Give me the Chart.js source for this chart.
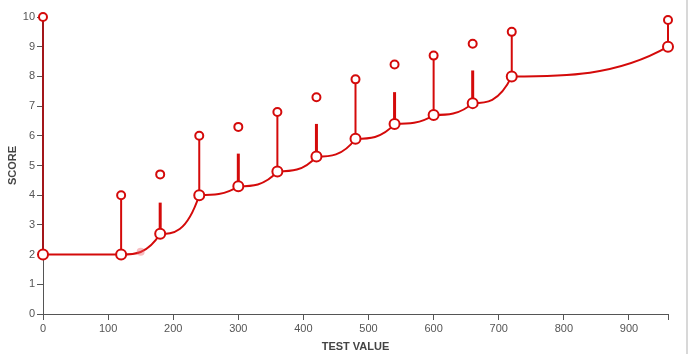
<!DOCTYPE html>
<html>
<head>
<meta charset="utf-8">
<script src="https://cdn.jsdelivr.net/npm/chart.js"></script>
<style>
  html, body { margin: 0; padding: 0; background: #fff; }
  #wrap { width: 686px; height: 354px; border-right: 2px solid #d8d8d8; }
</style>
</head>
<body>
<div id="wrap"><canvas id="myChart" width="686" height="354"></canvas></div>
<script>
// test values on the x axis
var testValues = [0, 120, 180, 240, 300, 360, 420, 480, 540, 600, 660, 720, 960];
// lower score (the curve) and upper score (open circles)
var lowScores  = [2, 2, 2.7, 4, 4.3, 4.8, 5.3, 5.9, 6.4, 6.7, 7.1, 8, 9];
var highScores = [10, 4, 4.7, 6, 6.3, 6.8, 7.3, 7.9, 8.4, 8.7, 9.1, 9.5, 9.9];
// where each stem ends (some stop short of the circle)
var stemTops   = [10, 4, 3.75, 6, 5.4, 6.8, 6.4, 7.9, 7.47, 8.7, 8.2, 9.5, 9.9];
// faint marker sitting on the curve
var ghostPoint = [{ x: 150, y: 2.1 }];

var xMax = 960;
var yTicks = [0, 1, 2, 3, 4, 5, 6, 7, 8, 9, 10];
var RED = '#d40a0a';

var curvePoints = testValues.map(function (x, i) { return { x: x, y: lowScores[i] }; });
var upperPoints = testValues.map(function (x, i) { return { x: x, y: highScores[i] }; });
var stemPoints = [];
testValues.forEach(function (x, i) {
    stemPoints.push({ x: x, y: lowScores[i] });
    stemPoints.push({ x: x, y: stemTops[i] });
    stemPoints.push({ x: x, y: null });
});

// each segment of the curve leaves flat and bends up into the next point
var easeInCurve = {
    id: 'easeInCurve',
    beforeDatasetDraw: function (chart, args) {
        var ds = chart.data.datasets[args.index];
        if (!ds.easeIn) return;
        var meta = args.meta;
        meta.dataset.updateControlPoints(chart.chartArea, 'x');
        var pts = meta.data;
        for (var i = 0; i < pts.length - 1; i++) {
            var a = pts[i], b = pts[i + 1];
            var dx = b.x - a.x;
            a.cp2x = a.x + dx / 3; a.cp2y = a.y;
            b.cp1x = a.x + 2 * dx / 3; b.cp1y = a.y;
        }
    }
};

Chart.defaults.font.family = '"Liberation Sans", Arial, sans-serif';
Chart.defaults.color = '#555';

var ctx = document.getElementById('myChart').getContext('2d');
var chart = new Chart(ctx, {
    type: 'line',
    data: {
        datasets: [{
            label: 'ghost',
            data: ghostPoint,
            showLine: false,
            pointRadius: 4,
            pointBorderWidth: 0,
            pointBackgroundColor: 'rgba(235, 90, 100, 0.4)'
        }, {
            label: 'high',
            data: upperPoints,
            showLine: false,
            clip: false,
            pointRadius: 4,
            pointBorderWidth: 2,
            pointBorderColor: RED,
            pointBackgroundColor: '#fff'
        }, {
            label: 'low',
            data: curvePoints,
            easeIn: true,
            clip: false,
            tension: 0.4,
            borderColor: RED,
            borderWidth: 2,
            pointRadius: 5,
            pointBorderWidth: 2,
            pointBorderColor: RED,
            pointBackgroundColor: '#fff'
        }, {
            label: 'stems',
            data: stemPoints,
            spanGaps: false,
            clip: false,
            tension: 0,
            pointRadius: 0,
            borderColor: RED,
            borderWidth: 2,
            segment: {
                borderWidth: function (c) {
                    var i = Math.floor(c.p0DataIndex / 3);
                    return stemTops[i] < highScores[i] ? 3 : 2;
                },
                borderColor: function (c) {
                    var i = Math.floor(c.p0DataIndex / 3);
                    return testValues[i] === 0 ? '#a3161a' : RED;
                }
            }
        }]
    },
    options: {
        responsive: false,
        animation: false,
        events: [],
        layout: { padding: { top: 17, right: 18, left: 6, bottom: 0 } },
        plugins: {
            legend: { display: false },
            tooltip: { enabled: false }
        },
        scales: {
            x: {
                type: 'linear',
                min: 0,
                max: xMax,
                grid: { display: true, drawOnChartArea: false, drawTicks: true, tickLength: 6, color: '#555', lineWidth: 1 },
                border: { display: true, color: '#555', width: 1 },
                ticks: {
                    stepSize: 100,
                    padding: 2,
                    font: { size: 11 },
                    color: '#555',
                    maxRotation: 0,
                    callback: function (v) { return v === xMax ? '' : v; }
                },
                title: {
                    display: true,
                    text: 'TEST VALUE',
                    font: { size: 11, weight: 'bold' },
                    color: '#444',
                    padding: { top: 4, bottom: 0 }
                },
                afterFit: function (scale) { scale.height = 40; }
            },
            y: {
                type: 'linear',
                min: 0,
                max: 10,
                afterBuildTicks: function (scale) {
                    scale.ticks = yTicks.map(function (v) { return { value: v }; });
                },
                grid: { display: true, drawOnChartArea: false, drawTicks: true, tickLength: 6, color: '#555', lineWidth: 1 },
                border: { display: true, color: '#555', width: 1 },
                ticks: { padding: 2, font: { size: 11 }, color: '#555' },
                title: {
                    display: true,
                    text: 'SCORE',
                    font: { size: 11, weight: 'bold' },
                    color: '#444',
                    padding: { top: 0, bottom: 8 }
                },
                afterFit: function (scale) { scale.width = 37; }
            }
        }
    },
    plugins: [easeInCurve]
});
</script>
</body>
</html>
